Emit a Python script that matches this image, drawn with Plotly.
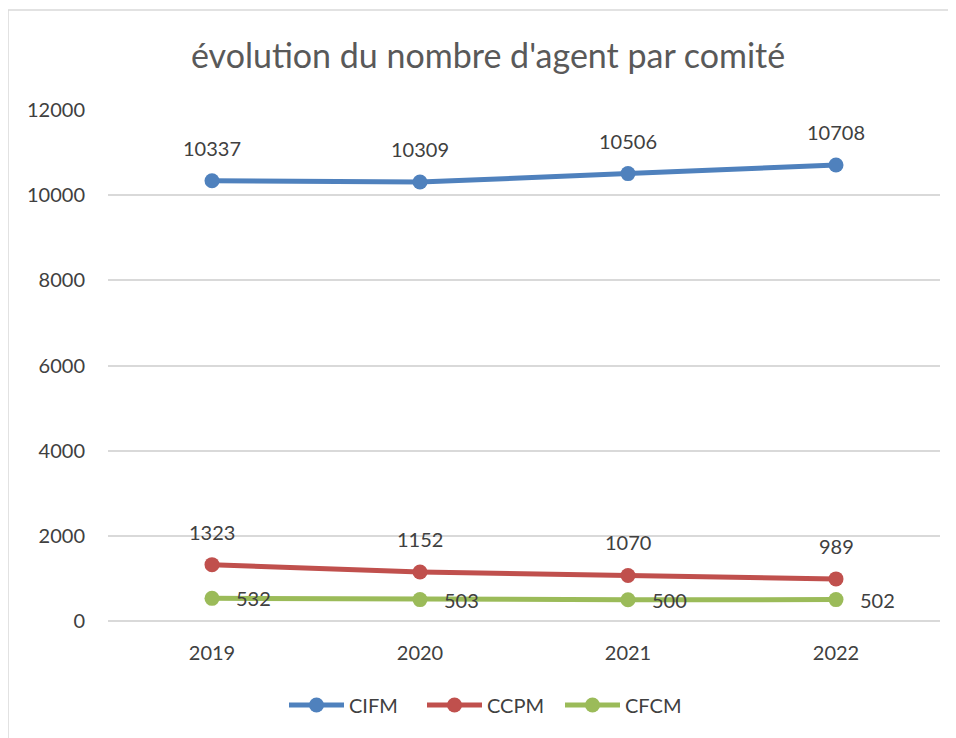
import plotly.graph_objects as go

years = ["2019", "2020", "2021", "2022"]
cifm = [10337, 10309, 10506, 10708]
ccpm = [1323, 1152, 1070, 989]
cfcm = [532, 503, 500, 502]

series = [
    ("CIFM", cifm, "#4F81BD", "above"),
    ("CCPM", ccpm, "#C0504D", "above"),
    ("CFCM", cfcm, "#9BBB59", "right"),
]

FONT = "Lato, 'Liberation Sans', sans-serif"
TXT = "#404040"

fig = go.Figure()
annotations = []
for name, vals, color, where in series:
    fig.add_trace(go.Scatter(
        x=years, y=vals, name=name, mode="lines+markers",
        line=dict(color=color, width=5),
        marker=dict(color=color, size=15),
    ))
    for i, v in enumerate(vals):
        if where == "above":
            annotations.append(dict(x=i, y=v, text=str(v), showarrow=False,
                                    yshift=33, font=dict(size=20, color=TXT, family=FONT)))
        else:
            annotations.append(dict(x=i, y=v, text=str(v), showarrow=False,
                                    xshift=41, yshift=0, font=dict(size=20, color=TXT, family=FONT)))

# the page puts the figure 8px in from the top left corner
pw, ph = 832, 511
annotations.append(dict(
    text="évolution du nombre d'agent par comité", xref="paper", yref="paper",
    x=(488 - 108) / pw, y=(621 - 55) / ph, yanchor="middle", showarrow=False,
    font=dict(size=34, color="#595959", family=FONT)))

fig.update_layout(
    width=948, height=730,
    margin=dict(l=100, r=16, t=102, b=117),
    paper_bgcolor="white", plot_bgcolor="white",
    font=dict(family=FONT, size=20, color=TXT),
    showlegend=True,
    legend=dict(orientation="h", x=(491 - 108) / pw, xanchor="center", y=(621 - 705) / ph,
                yanchor="middle", font=dict(size=20, color=TXT),
                itemwidth=55, entrywidth=68, traceorder="normal"),
    xaxis=dict(type="category", range=[-0.5, 3.5], showgrid=False,
               showline=False, ticks="", ticklabelstandoff=18,
               tickfont=dict(size=20, color=TXT)),
    yaxis=dict(range=[0, 12000], dtick=2000, tickformat="d", showgrid=True,
               gridcolor="#D9D9D9", gridwidth=1.5, zeroline=True,
               zerolinecolor="#D9D9D9", zerolinewidth=1.5,
               ticks="", ticklabelstandoff=22, tickfont=dict(size=20, color=TXT)),
    annotations=annotations,
    shapes=[dict(type="rect", xref="paper", yref="paper",
                 x0=(8 - 108) / pw, x1=(970 - 108) / pw,
                 y0=(621 - 760) / ph, y1=(621 - 10) / ph,
                 line=dict(color="#D9D9D9", width=1.5), fillcolor="rgba(0,0,0,0)")],
)

fig.write_html("out.html")
